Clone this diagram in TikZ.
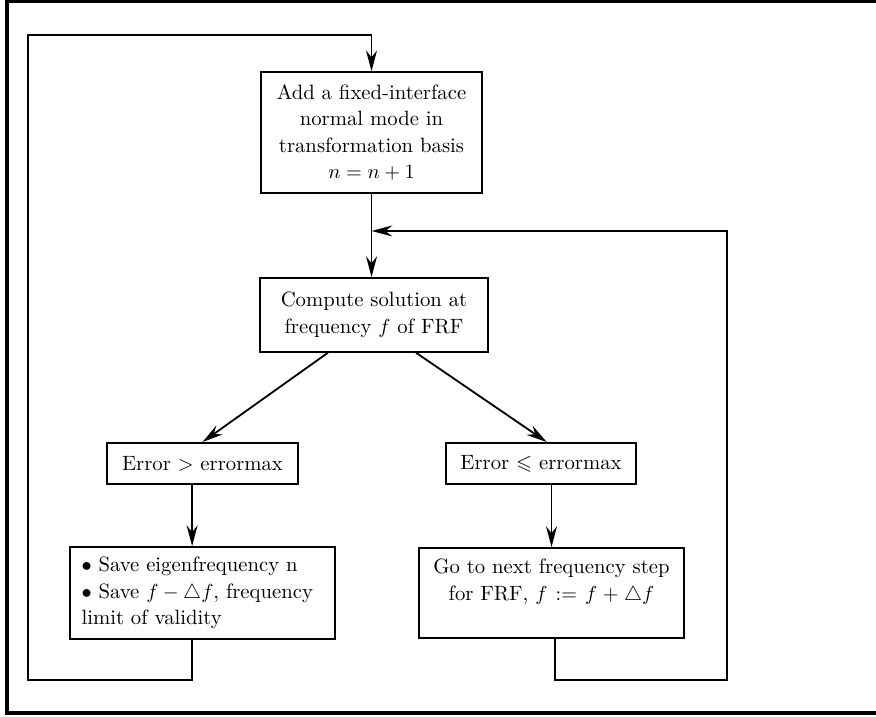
\documentclass[tikz,border=0pt]{standalone}
\usepackage{amsmath,amssymb}
\usetikzlibrary{arrows.meta}

\begin{document}
\begin{tikzpicture}[
  font=\fontsize{10.2}{13}\selectfont,
  boite/.style={draw, line width=0.9pt, align=center, inner sep=5pt},
  % les deux boites du bas ont la meme taille
  bas/.style={boite, text width=4.19cm, inner xsep=0.2cm, minimum height=1.56cm},
  fl/.style={-{Stealth[length=3.6mm, width=1.9mm, inset=1.2mm]}, line width=0.9pt},
]
\useasboundingbox (0,0) rectangle (15.166,12.396);
% ---- cadre
\draw[line width=1.6pt] (0.121,0.052) rectangle (15.235,12.379);
% ---- les boites
\node[boite, minimum width=3.83cm, minimum height=2.09cm] (ajout) at (6.432,10.102)
  {Add a fixed-interface\\normal mode in\\transformation basis\\$n = n + 1$};
\node[boite, minimum width=3.95cm, minimum height=1.28cm] (calcul) at (6.475,6.943)
  {Compute solution at\\frequency $f$ of FRF};
\node[boite, minimum width=3.31cm, minimum height=0.71cm] (errsup) at (3.506,4.372)
  {Error $>$ errormax};
\node[boite, minimum width=3.29cm, minimum height=0.71cm] (errinf) at (9.366,4.372)
  {Error $\leqslant$ errormax};
\node[bas, align=left] (sauve) at (3.506,2.130)
  {$\bullet$ Save eigenfrequency n\\$\bullet$ Save $f - \triangle f$, frequency\\limit of validity};
\node[bas] (suivant) at (9.548,2.130)
  {Go to next frequency step\\for FRF, $f := f + \triangle f$\\ \mbox{}};
% ---- fleches
\draw[fl] (ajout.south) -- (ajout.south |- calcul.north);
\draw[fl] ([xshift=-0.8cm]calcul.south) -- (errsup.north);
\draw[fl] ([xshift=0.73cm]calcul.south) -- ([xshift=0.1cm]errinf.north);
\draw[fl] ([xshift=-0.18cm]errsup.south) -- ([xshift=-0.18cm]sauve.north);
\draw[fl] (suivant.north |- errinf.south) -- (suivant.north);
% ---- boucles de retour
\coordinate (bg) at (0.485,0.623);
\coordinate (hg) at (0.485,11.790);
\coordinate (bd) at (12.587,0.623);
\coordinate (hd) at (12.587,8.397);
\draw[fl] ([xshift=-0.18cm]sauve.south) |- (bg) -- (hg) -| (ajout.north);
\draw[fl] ([xshift=0.06cm]suivant.south) |- (bd) -- (hd) -- (hd -| ajout.south);
\end{tikzpicture}
\end{document}
